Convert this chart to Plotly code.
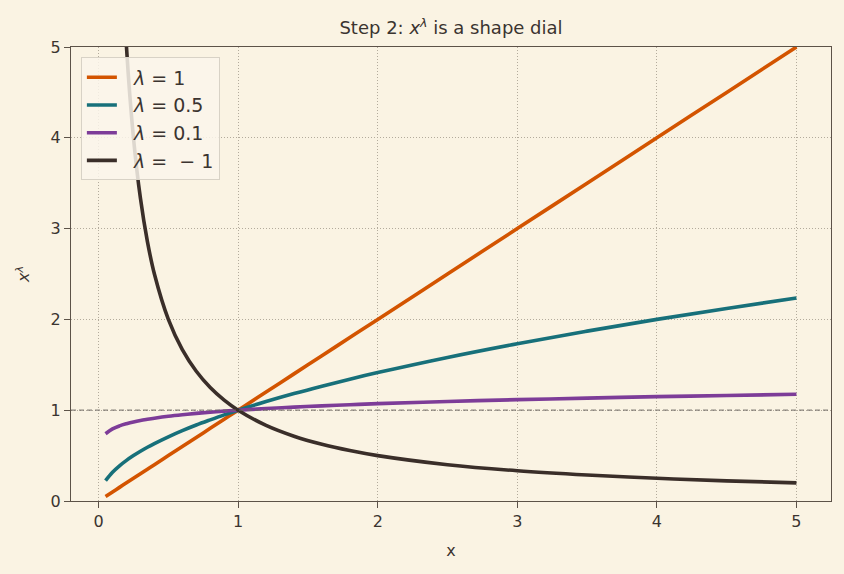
import plotly.graph_objects as go

x_vals = [0.05, 0.1, 0.15, 0.2, 0.25, 0.3, 0.35, 0.4, 0.5, 0.6, 0.7, 0.8, 0.9, 1.0,
          1.2, 1.4, 1.6, 1.8, 2.0, 2.5, 3.0, 3.5, 4.0, 4.5, 5.0]
y_lam_1 = [0.05, 0.1, 0.15, 0.2, 0.25, 0.3, 0.35, 0.4, 0.5, 0.6, 0.7, 0.8, 0.9, 1.0,
           1.2, 1.4, 1.6, 1.8, 2.0, 2.5, 3.0, 3.5, 4.0, 4.5, 5.0]
y_lam_05 = [0.224, 0.316, 0.387, 0.447, 0.5, 0.548, 0.592, 0.632, 0.707, 0.775, 0.837, 0.894, 0.949, 1.0,
            1.095, 1.183, 1.265, 1.342, 1.414, 1.581, 1.732, 1.871, 2.0, 2.121, 2.236]
y_lam_01 = [0.741, 0.794, 0.827, 0.851, 0.871, 0.887, 0.900, 0.912, 0.933, 0.950, 0.965, 0.978, 0.990, 1.0,
            1.018, 1.034, 1.048, 1.060, 1.072, 1.096, 1.116, 1.133, 1.149, 1.162, 1.175]
y_lam_m1 = [20.0, 10.0, 6.667, 5.0, 4.0, 3.333, 2.857, 2.5, 2.0, 1.667, 1.429, 1.25, 1.111, 1.0,
            0.833, 0.714, 0.625, 0.556, 0.5, 0.4, 0.333, 0.286, 0.25, 0.222, 0.2]
series_names = ["\u00a0\u00a0<i>λ</i> = 1", "\u00a0\u00a0<i>λ</i> = 0.5",
                "\u00a0\u00a0<i>λ</i> = 0.1", "\u00a0\u00a0<i>λ</i> =  − 1"]
series_colors = ["#d35400", "#17707a", "#7d3c98", "#3a2e29"]
ref_level = 1.0
x_ticks = [0, 1, 2, 3, 4, 5]
y_ticks = [0, 1, 2, 3, 4, 5]

bg = "#faf3e3"
ink = "#3b3430"
spine = "#5c5248"
gridc = "#b3ab9c"

fig = go.Figure()
for name, ys, c in zip(series_names, [y_lam_1, y_lam_05, y_lam_01, y_lam_m1], series_colors):
    fig.add_trace(go.Scatter(x=x_vals, y=ys, mode="lines", name=name,
                             line=dict(color=c, width=3.6, shape="spline")))

fig.add_hline(y=ref_level, line=dict(color="rgba(110,105,100,0.8)", width=1.3, dash="5px,3px"), layer="above")

axis_common = dict(showline=True, linecolor=spine, linewidth=1.3, mirror=True,
                   ticks="outside", ticklen=6, tickwidth=1.3, tickcolor=spine,
                   showgrid=True, gridcolor=gridc, griddash="1px,2px", gridwidth=1,
                   zeroline=False, tickfont=dict(size=16, color=ink))

fig.update_layout(
    width=844, height=574,
    margin=dict(l=71, r=13, t=47, b=73),
    paper_bgcolor=bg, plot_bgcolor=bg,
    font=dict(family="DejaVu Sans", color=ink, size=16),
    title=dict(text="Step 2: <i>x</i><sup><i>λ</i></sup> is a shape dial", x=0.5, xref="paper",
               xanchor="center", y=0.951, yanchor="middle", font=dict(size=18, color=ink)),
    xaxis=dict(range=[-0.1975, 5.2475], tickvals=x_ticks,
               title=dict(text="x", font=dict(size=16), standoff=14), **axis_common),
    yaxis=dict(range=[0, 5], tickvals=y_ticks,
               title=dict(text="<i>x</i><sup><i>λ</i></sup>", font=dict(size=16), standoff=16), **axis_common),
    legend=dict(x=0.013, y=0.977, xanchor="left", yanchor="top",
                bgcolor="rgba(250,245,235,0.85)", bordercolor="#d8d2c6", borderwidth=1,
                font=dict(size=19, color=ink)),
    showlegend=True,
)

fig.write_html("out.html")
